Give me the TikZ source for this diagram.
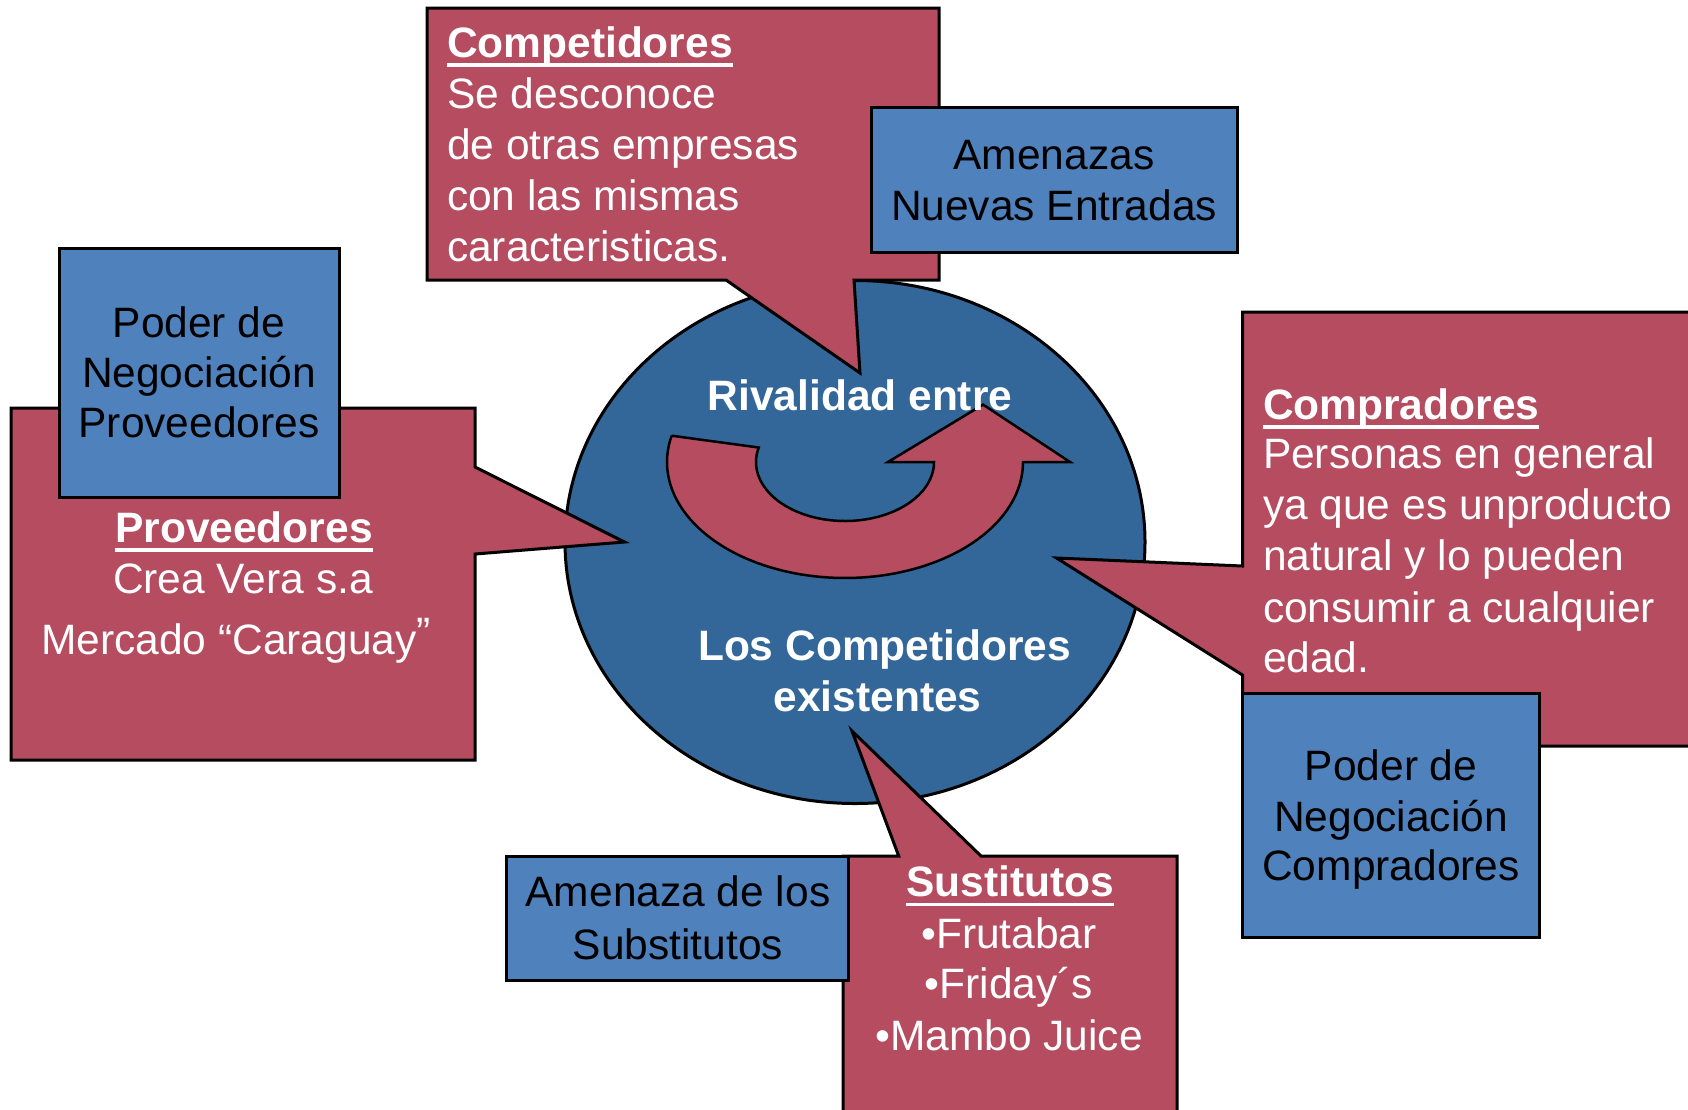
\documentclass[tikz,border=0pt]{standalone}
\usepackage{fontspec}
\setmainfont{Liberation Sans}
\usetikzlibrary{shapes.geometric}
\definecolor{calred}{RGB}{181,76,96}
\definecolor{boxblue}{RGB}{79,129,189}
\definecolor{rivblue}{RGB}{52,103,153}
\newsavebox\ulbox
\newcommand\myul[1]{\sbox\ulbox{#1}\rlap{\rule[-9.5pt]{\wd\ulbox}{3.5pt}}\usebox\ulbox}
\begin{document}
\begin{tikzpicture}[x=1pt,y=-1pt,
  callout/.style={fill=calred,draw=black,line width=3pt,line join=miter},
  bluebox/.style={draw=black,fill=boxblue,line width=3pt,inner sep=0pt,outer sep=0pt},
  rivalry/.style={ellipse,draw=black,fill=rivblue,line width=3pt,inner sep=0pt,minimum width=580pt,minimum height=523pt},
  turnarrow/.style={fill=calred,draw=black,line width=2.5pt,line join=miter},
  txt/.style={inner sep=0pt,outer sep=0pt,font=\fontsize{42.5}{51}\selectfont},
  wtxt/.style={txt,text=white},
  btxt/.style={txt,text=black},
  wbold/.style={wtxt,font=\fontsize{42.5}{51}\selectfont\bfseries}]
\path[use as bounding box] (0,0) rectangle (1688,1109);
\clip (0,0) rectangle (1688,1109);

% central ellipse
\node[rivalry] (rival) at (855,542) {};

% circular arrow
\draw[turnarrow] (671.6,435.7)
  -- plot[domain=193.1:0,samples=90] ({845+178*cos(\x)},{462+116*sin(\x)})
  -- (1070,462) -- (983,404.6) -- (888,462) -- (934,462)
  -- plot[domain=0:194.2,samples=90] ({845+89*cos(\x)},{462+59*sin(\x)})
  -- cycle;

% Competidores callout
\coordinate (cptip) at (860,373);
\draw[callout] (427,8) -- (939,8) -- (939,280) -- (854,280) -- (cptip) -- (726,280) -- (427,280) -- cycle;
\node[bluebox,minimum width=366pt,minimum height=145pt] (newent) at (1054,179.5) {};

% Proveedores callout
\coordinate (prtip) at (624.5,542);
\draw[callout] (11,408) -- (475,408) -- (475,467) -- (prtip) -- (475,554) -- (475,760) -- (11,760) -- cycle;
\node[bluebox,minimum width=280pt,minimum height=249pt] (podprov) at (199,372.5) {};

% Compradores callout
\coordinate (cotip) at (1056.5,558);
\draw[callout] (1242.5,312) -- (1710,312) -- (1710,746) -- (1242.5,746) -- (1242.5,675) -- (cotip) -- (1242.5,566) -- cycle;
\node[bluebox,minimum width=296.5pt,minimum height=244pt] (podcomp) at (1390.75,815) {};

% Sustitutos callout
\coordinate (sutip) at (852,731);
\draw[callout] (843,856) -- (898.7,856) -- (sutip) -- (981,856) -- (1177,856) -- (1177,1130) -- (843,1130) -- cycle;
\node[bluebox,minimum width=342pt,minimum height=124pt] (amsub) at (677.65,918) {};

% texts in ellipse
\node[wbold,anchor=base] (riv1) at (860,410.7) {Rivalidad entre};
\node[wbold,anchor=base] (riv2) at (884.6,660.7) {Los Competidores};
\node[wbold,anchor=base] (riv3) at (877.6,711.8) {existentes};

% Competidores text
\node[wbold,anchor=base west] (cp1) at (447,57.3) {\myul{Competidores}};
\node[wtxt,anchor=base west] (cp2) at (447,108.3) {Se desconoce};
\node[wtxt,anchor=base west] (cp3) at (447,159.3) {de otras empresas};
\node[wtxt,anchor=base west] (cp4) at (447,210.7) {con las mismas};
\node[wtxt,anchor=base west] (cp5) at (447,261.7) {caracteristicas.};

% Amenazas Nuevas Entradas
\node[btxt,anchor=base] (ne1) at (1054,169) {Amenazas};
\node[btxt,anchor=base] (ne2) at (1054,220) {Nuevas Entradas};

% Poder de Negociacion Proveedores
\node[btxt,anchor=base] (pp1) at (199,337) {Poder de};
\node[btxt,anchor=base] (pp2) at (199,387.7) {Negociación};
\node[btxt,anchor=base] (pp3) at (199,437.8) {Proveedores};

% Proveedores text
\node[wbold,anchor=base] (pr1) at (244,542) {\myul{Proveedores}};
\node[wtxt,anchor=base] (pr2) at (243,593) {Crea Vera s.a};
\node[wtxt,anchor=base] (pr3) at (236,654) {Mercado “Caraguay\raisebox{7pt}{”}};

% Compradores text
\node[wbold,anchor=base west] (co1) at (1263,419) {\myul{Compradores}};
\node[wtxt,anchor=base west] (co2) at (1263,468.6) {Personas en general};
\node[wtxt,anchor=base west] (co3) at (1263,519) {ya que es unproducto};
\node[wtxt,anchor=base west] (co4) at (1263,570.7) {natural y lo pueden};
\node[wtxt,anchor=base west] (co5) at (1263,622.3) {consumir a cualquier};
\node[wtxt,anchor=base west] (co6) at (1263,672) {edad.};

% Poder de Negociacion Compradores
\node[btxt,anchor=base] (pc1) at (1391,780) {Poder de};
\node[btxt,anchor=base] (pc2) at (1391,831) {Negociación};
\node[btxt,anchor=base] (pc3) at (1391,880.6) {Compradores};

% Amenaza de los Substitutos
\node[btxt,anchor=base] (as1) at (678,906.7) {Amenaza de los};
\node[btxt,anchor=base] (as2) at (678,959) {Substitutos};

% Sustitutos text
\node[wbold,anchor=base] (su1) at (1010,896.7) {\myul{Sustitutos}};
\node[wtxt,anchor=base] (su2) at (1009,948) {•Frutabar};
\node[wtxt,anchor=base] (su3) at (1009,998) {•Friday´s};
\node[wtxt,anchor=base] (su4) at (1009,1050) {•Mambo Juice};
\end{tikzpicture}
\end{document}
